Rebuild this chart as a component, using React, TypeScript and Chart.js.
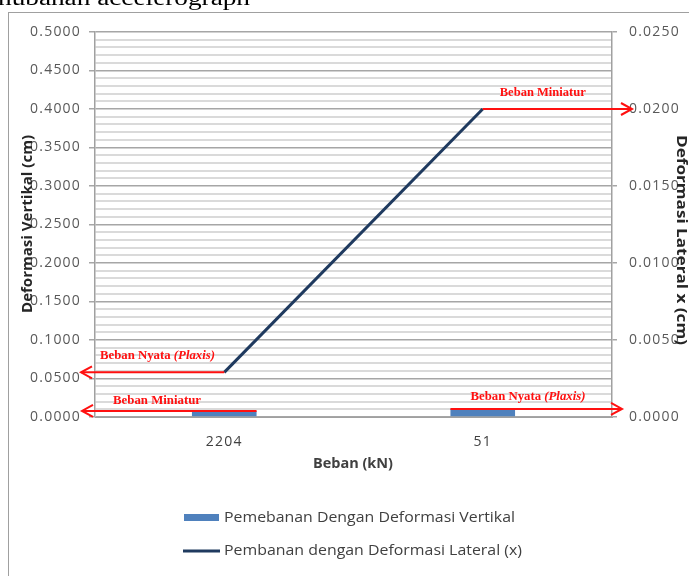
import React, { useEffect, useRef } from "react";
import { Chart, registerables } from "chart.js";

Chart.register(...registerables);

const categories = ["2204", "51"];
const verticalValues = [0.0078, 0.0104];
const lateralValues = [0.0029, 0.02];
const leftMin = 0;
const leftMax = 0.5;
const leftStep = 0.01;
const rightMin = 0;
const rightMax = 0.025;
const rightStep = 0.005;
const barLabel = "Pemebanan Dengan Deformasi Vertikal";
const lineLabel = "Pembanan dengan Deformasi Lateral (x)";

const BAR_COLOR = "#4F81BD";
const LINE_COLOR = "#1F3A5F";
const RED = "#ff1010";
const FONT = "'Open Sans', 'Liberation Sans', sans-serif";
const SERIF = "'Liberation Serif', 'DejaVu Serif', serif";

type Part = { text: string; font: string; color: string };

function drawFitted(
  ctx: CanvasRenderingContext2D,
  parts: Part[],
  x: number,
  y: number,
  width: number,
  baseline: CanvasTextBaseline = "middle"
) {
  ctx.save();
  let natural = 0;
  parts.forEach((p) => {
    ctx.font = p.font;
    natural += ctx.measureText(p.text).width;
  });
  const s = width / natural;
  ctx.translate(x, y);
  ctx.scale(s, 1);
  ctx.textAlign = "left";
  ctx.textBaseline = baseline;
  let cx = 0;
  parts.forEach((p) => {
    ctx.font = p.font;
    ctx.fillStyle = p.color;
    ctx.fillText(p.text, cx, 0);
    cx += ctx.measureText(p.text).width;
  });
  ctx.restore();
}

function drawRotated(
  ctx: CanvasRenderingContext2D,
  text: string,
  font: string,
  color: string,
  cx: number,
  cy: number,
  length: number,
  angle: number
) {
  ctx.save();
  ctx.translate(cx, cy);
  ctx.rotate(angle);
  drawFitted(ctx, [{ text, font, color }], -length / 2, 0, length, "middle");
  ctx.restore();
}

function arrow(
  ctx: CanvasRenderingContext2D,
  x1: number,
  x2: number,
  y: number,
  dir: "left" | "right"
) {
  ctx.save();
  ctx.strokeStyle = RED;
  ctx.lineWidth = 2;
  ctx.beginPath();
  ctx.moveTo(x1, y);
  ctx.lineTo(x2, y);
  ctx.stroke();
  const tip = dir === "left" ? Math.min(x1, x2) : Math.max(x1, x2);
  const d = dir === "left" ? 11 : -11;
  ctx.beginPath();
  ctx.moveTo(tip + d, y - 6);
  ctx.lineTo(tip, y);
  ctx.lineTo(tip + d, y + 6);
  ctx.stroke();
  ctx.restore();
}

const isMajor = (v: number) => Math.round(v * 100) % 5 === 0;

const decorPlugin = {
  id: "decor",
  beforeDraw(chart: any) {
    const ctx: any = chart.ctx;
    if ("letterSpacing" in ctx) ctx.letterSpacing = "1.2px";
  },
  afterDraw(chart: any) {
    const ctx: CanvasRenderingContext2D = chart.ctx;
    if ("letterSpacing" in ctx) (ctx as any).letterSpacing = "0px";
    const area = chart.chartArea;
    // outer frame
    ctx.save();
    ctx.strokeStyle = "#a0a0a0";
    ctx.lineWidth = 1;
    ctx.strokeRect(8.5, 12.5, 900, 900);
    ctx.restore();
    // clipped document text above chart
    drawFitted(
      ctx,
      [{ text: "hubahan accelerograph", font: `20px ${SERIF}`, color: "#000" }],
      -2,
      5,
      252,
      "alphabetic"
    );

    // axis titles
    const titleFont = `bold 14px ${FONT}`;
    drawRotated(ctx, "Deformasi Vertikal (cm)", titleFont, "#262626", 28, 224, 178, -Math.PI / 2);
    drawRotated(ctx, "Deformasi Lateral x (cm)", titleFont, "#262626", 681, 240, 210, Math.PI / 2);
    drawFitted(ctx, [{ text: "Beban (kN)", font: titleFont, color: "#404040" }], 313, 464, 80);

    // legend
    ctx.save();
    ctx.fillStyle = BAR_COLOR;
    ctx.fillRect(184, 514, 35, 7);
    ctx.strokeStyle = LINE_COLOR;
    ctx.lineWidth = 3;
    ctx.beginPath();
    ctx.moveTo(183, 551);
    ctx.lineTo(220, 551);
    ctx.stroke();
    ctx.restore();
    const legFont = `14px ${FONT}`;
    drawFitted(ctx, [{ text: barLabel, font: legFont, color: "#404040" }], 224, 518, 291);
    drawFitted(ctx, [{ text: lineLabel, font: legFont, color: "#404040" }], 224, 551, 298);

    // red annotations
    const bars = chart.getDatasetMeta(0).data;
    const pts = chart.getDatasetMeta(1).data;
    const b0 = bars[0];
    const b1 = bars[1];
    const p0 = pts[0];
    const p1 = pts[1];
    const annFont = `bold 12px ${SERIF}`;
    const annItal = `italic bold 12px ${SERIF}`;
    const nyata: Part[] = [
      { text: "Beban Nyata ", font: annFont, color: RED },
      { text: "(Plaxis)", font: annItal, color: RED },
    ];
    const mini: Part[] = [{ text: "Beban Miniatur", font: annFont, color: RED }];

    arrow(ctx, p0.x, area.left - 14, p0.y, "left");
    drawFitted(ctx, nyata, area.left + 5, p0.y - 13, 115, "alphabetic");

    arrow(ctx, b0.x + b0.width / 2, area.left - 13, b0.y, "left");
    drawFitted(ctx, mini, area.left + 18, b0.y - 7, 88, "alphabetic");

    arrow(ctx, p1.x, area.right + 20, p1.y, "right");
    drawFitted(ctx, mini, p1.x + 17, p1.y - 13, 86, "alphabetic");

    arrow(ctx, b1.x - b1.width / 2, area.right + 10, b1.y, "right");
    drawFitted(ctx, nyata, b1.x - b1.width / 2 + 20, b1.y - 9, 115, "alphabetic");
  },
};

export default function App() {
  const ref = useRef<HTMLCanvasElement | null>(null);
  useEffect(() => {
    if (!ref.current) return;
    const tickFont = { family: FONT, size: 14 };
    const chart = new Chart(ref.current, {
      type: "bar",
      data: {
        labels: categories,
        datasets: [
          {
            type: "bar",
            label: barLabel,
            data: verticalValues,
            backgroundColor: BAR_COLOR,
            yAxisID: "y",
            barPercentage: 0.25,
            categoryPercentage: 1,
            order: 2,
          },
          {
            type: "line",
            label: lineLabel,
            data: lateralValues,
            borderColor: LINE_COLOR,
            backgroundColor: LINE_COLOR,
            borderWidth: 3,
            pointRadius: 0,
            yAxisID: "y1",
            order: 1,
          },
        ],
      } as any,
      options: {
        animation: false,
        responsive: false,
        maintainAspectRatio: false,
        devicePixelRatio: 1,
        layout: { padding: { top: 32, left: 0, right: 0, bottom: 0 } },
        plugins: {
          legend: { display: false },
          tooltip: { enabled: false },
        },
        scales: {
          x: {
            type: "category",
            offset: true,
            grid: { display: false, drawTicks: false },
            border: { color: "#a0a0a0", width: 1 },
            ticks: { font: tickFont, color: "#404040", padding: 17, maxRotation: 0 },
            afterFit: (s: any) => {
              s.height = 159;
            },
          },
          y: {
            position: "left",
            min: leftMin,
            max: leftMax,
            ticks: {
              stepSize: leftStep,
              autoSkip: false,
              font: tickFont,
              color: "#595959",
              padding: 8,
              callback: (v: any) => (isMajor(Number(v)) ? Number(v).toFixed(4) : ""),
            },
            grid: {
              color: (c: any) => (isMajor(c.tick.value) ? "#a6a6a6" : "#dadada"),
              lineWidth: (c: any) => (isMajor(c.tick.value) ? 1.5 : 2),
              tickColor: (c: any) => (isMajor(c.tick.value) ? "#a6a6a6" : "rgba(0,0,0,0)"),
              tickWidth: 1.5,
              tickLength: 6,
            },
            border: { color: "#a0a0a0", width: 1.5 },
            afterFit: (s: any) => {
              s.width = 95;
            },
          },
          y1: {
            position: "right",
            min: rightMin,
            max: rightMax,
            ticks: {
              stepSize: rightStep,
              font: tickFont,
              color: "#595959",
              padding: 12,
              callback: (v: any) => Number(v).toFixed(4),
            },
            grid: {
              drawOnChartArea: false,
              color: "#a6a6a6",
              tickLength: 5,
              lineWidth: 1.5,
            },
            border: { color: "#a0a0a0", width: 1.5 },
            afterFit: (s: any) => {
              s.width = 77;
            },
          },
        },
      } as any,
      plugins: [decorPlugin],
    });
    return () => chart.destroy();
  }, []);
  return (
    <div style={{ position: "fixed", left: 0, top: 0, width: 689, height: 576, background: "#fff" }}>
      <canvas ref={ref} width={689} height={576} style={{ width: 689, height: 576, display: "block" }} />
    </div>
  );
}
